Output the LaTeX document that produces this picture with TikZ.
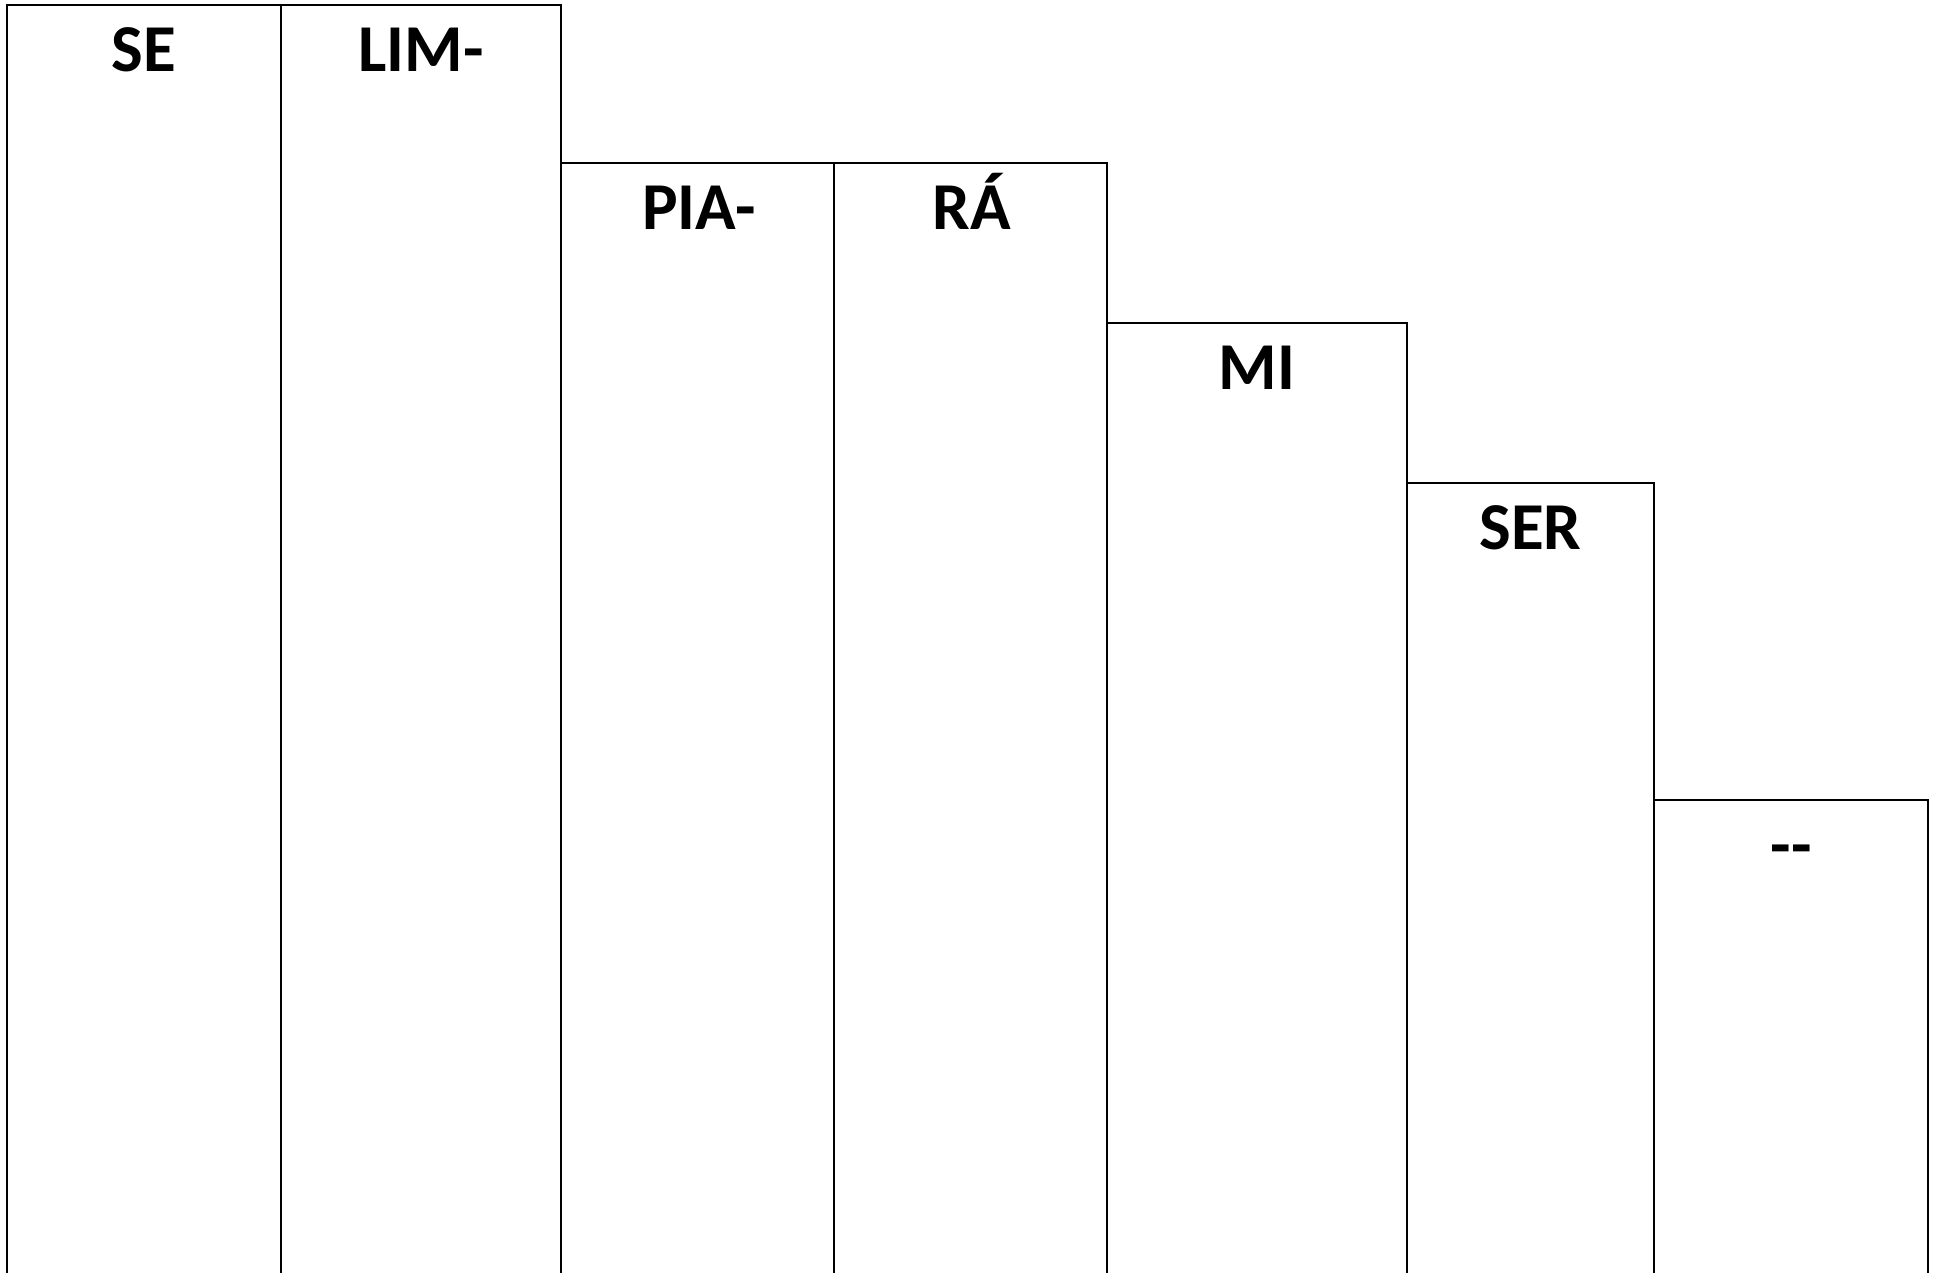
\documentclass[tikz,border=0pt]{standalone}
\usepackage{fontspec}
\setmainfont{Carlito}
\begin{document}
\begin{tikzpicture}[x=0.5pt,y=-0.5pt,
  colline/.style={draw=black,line width=1pt,line join=miter},
  syl/.style={anchor=base,inner sep=0pt,font=\fontsize{33.5}{40}\selectfont\bfseries}]
\useasboundingbox (0,0) rectangle (1940,1273);
\fill[white] (0,0) rectangle (1940,1273);
% columns
\draw[colline] (7.3,1273) -- (7.3,5) -- (280.8,5) -- (280.8,1273);
\draw[colline] (280.8,5) -- (560.5,5) -- (560.5,1273);
\draw[colline] (560.5,163) -- (833.9,163) -- (833.9,1273);
\draw[colline] (833.9,163) -- (1107.3,163) -- (1107.3,1273);
\draw[colline] (1107.3,323) -- (1406.7,323) -- (1406.7,1273);
\draw[colline] (1406.7,482.7) -- (1654.2,482.7) -- (1654.2,1273);
\draw[colline] (1654.2,800) -- (1928.3,800) -- (1928.3,1273);
% syllables
\node[syl] (se)  at (144,72) {SE};
\node[syl] (lim) at (421,72) {LIM-};
\node[syl] (pia) at (699,230) {PIA-};
\node[syl] (ra)  at (972,230) {RÁ};
\node[syl] (mi)  at (1257,390) {MI};
\node[syl] (ser) at (1530.5,549.7) {SER};
\node[syl] (dd)  at (1791,867) {-{}-};
\end{tikzpicture}
\end{document}
